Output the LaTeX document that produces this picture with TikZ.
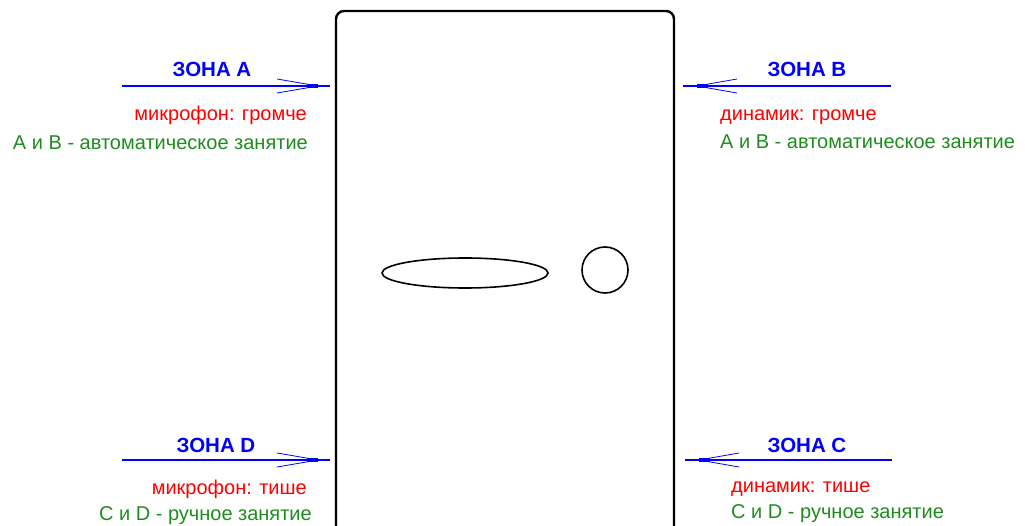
\documentclass[tikz,border=0pt]{standalone}
\usepackage{fontspec}
\setmainfont{Liberation Sans}
\usetikzlibrary{calc}

\definecolor{zonablue}{RGB}{0,0,255}
\definecolor{zonared}{RGB}{255,0,0}
\definecolor{zonagreen}{RGB}{30,140,30}

\tikzset{
  zonatitle/.style={inner sep=0pt, text=zonablue, font=\fontsize{20.5}{24}\selectfont\bfseries},
  zonared/.style={inner sep=0pt, text=zonared, font=\fontsize{20}{24}\selectfont},
  zonagreen/.style={inner sep=0pt, text=zonagreen, font=\fontsize{20}{24}\selectfont},
  zonaline/.style={zonablue, line width=2pt},
  zonabarb/.style={zonablue, line width=0.8pt},
  zonatip/.style={zonablue, line width=4.5pt},
}

\begin{document}
\begin{tikzpicture}[x=1pt,y=-1pt]
        \useasboundingbox (0,0) rectangle (1025,526);

        % Dver'
        \draw[line width=2.4pt, rounded corners=8pt] (336,560) -- (336,11) -- (674,11) -- (674,560);
        \draw[line width=1.6pt] (465,273) ellipse (83 and 15);
        \draw[line width=1.6pt] (605,270) circle (23);

        % Zona A
        \coordinate (a0) at (122,86);
        \coordinate (a1) at (330,86);
        \coordinate (ta) at (318,86);
        \draw[zonaline] (a0) -- (a1);
        \draw[zonabarb] ($(ta)+(-41,-7)$) -- (ta) -- ($(ta)+(-41,7)$);
        \draw[zonatip] ($(ta)+(-11,0)$) -- (ta);
        \node[zonatitle, anchor=base] (za) at (212,77) {ЗОНА A};
        \node[zonared, anchor=base east] (ma) at (307,121) {микрофон: громче};
        \node[zonagreen, anchor=base east] (ga) at (308,150) {A и B - автоматическое занятие};

        % Zona B
        \coordinate (b0) at (891,86);
        \coordinate (b1) at (683,86);
        \coordinate (tb) at (697,86);
        \draw[zonaline] (b0) -- (b1);
        \draw[zonabarb] ($(tb)+(40,-7)$) -- (tb) -- ($(tb)+(40,7)$);
        \draw[zonatip] ($(tb)+(11,0)$) -- (tb);
        \node[zonatitle, anchor=base] (zb) at (807,77) {ЗОНА B};
        \node[zonared, anchor=base west] (mb) at (720,121) {динамик: громче};
        \node[zonagreen, anchor=base west] (gb) at (720,149) {A и B - автоматическое занятие};

        % Zona D
        \coordinate (d0) at (122,460);
        \coordinate (d1) at (330,460);
        \coordinate (td) at (318,460);
        \draw[zonaline] (d0) -- (d1);
        \draw[zonabarb] ($(td)+(-41,-7)$) -- (td) -- ($(td)+(-41,7)$);
        \draw[zonatip] ($(td)+(-11,0)$) -- (td);
        \node[zonatitle, anchor=base] (zd) at (216,452) {ЗОНА D};
        \node[zonared, anchor=base east] (md) at (307,494) {микрофон: тише};
        \node[zonagreen, anchor=base east] (gd) at (312,520) {C и D - ручное занятие};

        % Zona C
        \coordinate (c0) at (892,460);
        \coordinate (c1) at (685,460);
        \coordinate (tc) at (699,460);
        \draw[zonaline] (c0) -- (c1);
        \draw[zonabarb] ($(tc)+(40,-7)$) -- (tc) -- ($(tc)+(40,7)$);
        \draw[zonatip] ($(tc)+(11,0)$) -- (tc);
        \node[zonatitle, anchor=base] (zc) at (807,452) {ЗОНА C};
        \node[zonared, anchor=base west] (mc) at (731,492) {динамик: тише};
        \node[zonagreen, anchor=base west] (gc) at (731,518) {C и D - ручное занятие};
    \end{tikzpicture}
\end{document}
